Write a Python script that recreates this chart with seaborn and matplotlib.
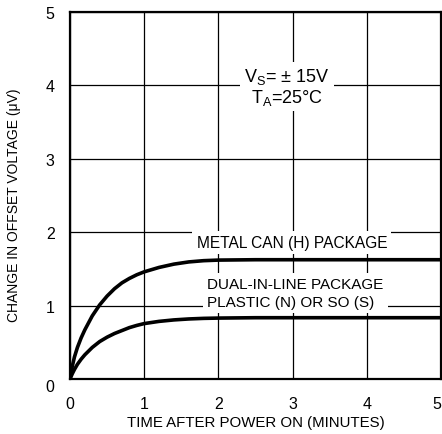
import matplotlib
matplotlib.use("Agg")
import matplotlib.pyplot as plt
import seaborn as sns
import pandas as pd
from matplotlib import font_manager

# ---- data ----
time_min = [0, 0.03, 0.06, 0.1, 0.15, 0.2, 0.3, 0.4, 0.5, 0.6, 0.7, 0.8, 0.9, 1.0,
            1.2, 1.4, 1.6, 1.8, 2.0, 2.5, 3.0, 4.0, 5.0]
metal_can = [0, 0.17, 0.30, 0.43, 0.56, 0.67, 0.86, 1.01, 1.13, 1.23, 1.31, 1.37, 1.42, 1.46,
             1.52, 1.565, 1.595, 1.612, 1.62, 1.625, 1.625, 1.625, 1.625]
dip_plastic = [0, 0.07, 0.13, 0.20, 0.27, 0.33, 0.43, 0.51, 0.57, 0.62, 0.66, 0.70, 0.73, 0.755,
               0.785, 0.805, 0.818, 0.826, 0.83, 0.835, 0.835, 0.835, 0.835]
x_ticks = [0, 1, 2, 3, 4, 5]
y_ticks = [0, 1, 2, 3, 4, 5]
label_metal = "METAL CAN (H) PACKAGE"
label_dip = "DUAL-IN-LINE PACKAGE\nPLASTIC (N) OR SO (S)"
cond_text = "V$_\\mathregular{S}$= ± 15V\nT$_\\mathregular{A}$=25°C"

df = pd.DataFrame({
    "t": time_min * 2,
    "v": metal_can + dip_plastic,
    "pkg": ["metal"] * len(time_min) + ["dip"] * len(time_min),
})

sns.set_style("white")
names = {f.name for f in font_manager.fontManager.ttflist}
fam = "Liberation Sans Narrow" if "Liberation Sans Narrow" in names else "Liberation Sans"
plt.rcParams["font.family"] = [fam, "DejaVu Sans"]
plt.rcParams["mathtext.fontset"] = "custom"
plt.rcParams["mathtext.rm"] = fam
for k in ["text.color", "axes.labelcolor", "xtick.color", "ytick.color", "axes.edgecolor"]:
    plt.rcParams[k] = "black"

fig = plt.figure(figsize=(4.42, 4.35), dpi=100)
ax = fig.add_axes([70 / 442, 1 - 380 / 435, 371 / 442, 367 / 435])

sns.lineplot(data=df, x="t", y="v", hue="pkg", palette={"metal": "black", "dip": "black"},
             linewidth=2.6, legend=False, ax=ax, zorder=3, estimator=None, sort=False)

ax.set_xlim(0, 5)
ax.set_ylim(0, 5)
ax.set_xticks(x_ticks)
ax.set_yticks(y_ticks)
ax.set_xticklabels([str(v) for v in x_ticks], fontsize=11.5)
ax.set_yticklabels([str(v) for v in y_ticks], fontsize=11.5)
ax.tick_params(axis="x", length=0, pad=12, colors="black")
ax.tick_params(axis="y", length=0, pad=11, colors="black")
ax.grid(True, color="black", linewidth=0.9)
for s in ax.spines.values():
    s.set_visible(True)
    s.set_color("black")
    s.set_linewidth(1.6)
for lab in ax.get_yticklabels():
    if lab.get_text() == "0":
        lab.set_va("top")
xl = ax.get_xticklabels()
xl[-1].set_ha("right")
xl[0].set_ha("center")
ax.set_xlabel("TIME AFTER POWER ON (MINUTES)", fontsize=10.8, labelpad=3, color="black")
ax.set_ylabel("CHANGE IN OFFSET VOLTAGE (μV)", fontsize=10.0, color="black")
ax.yaxis.set_label_coords(-0.132, 0.477)

box = dict(facecolor="white", edgecolor="none", pad=3)
ax.text(2.99, 1.86, label_metal, ha="center", va="center", fontsize=11.2, bbox=box, zorder=4,
        color="black")
ax.text(1.85, 1.17, label_dip, ha="left", va="center", fontsize=11.0, bbox=box, zorder=4,
        linespacing=1.4, color="black")
ax.text(2.92, 3.98, cond_text, ha="center", va="center", fontsize=13, bbox=box, zorder=4,
        linespacing=1.05, color="black")

fig.savefig("out.png", dpi=100)
